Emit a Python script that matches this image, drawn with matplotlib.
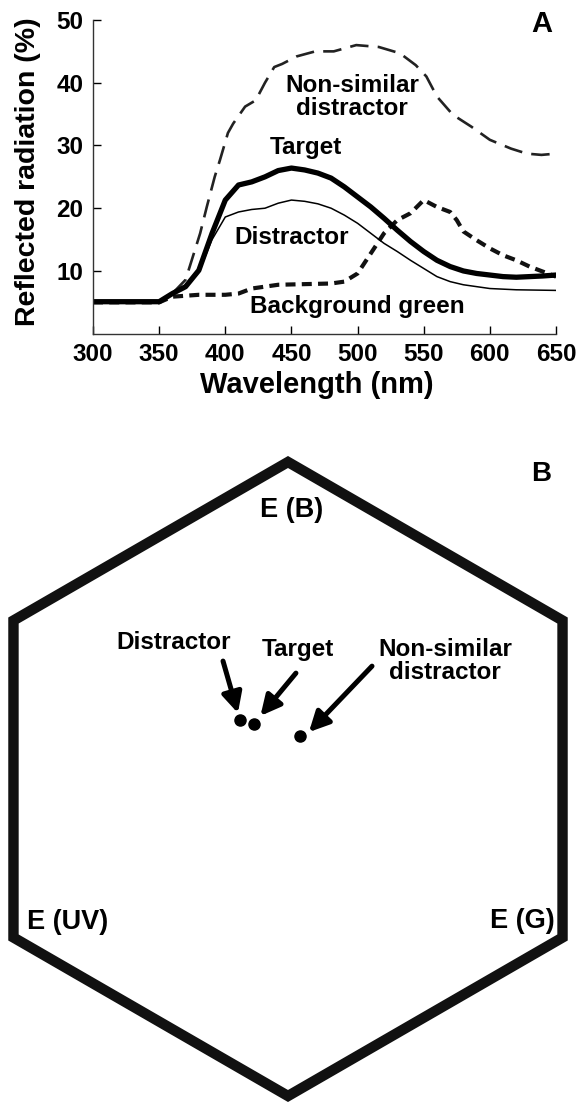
import numpy as np
import matplotlib
matplotlib.use("Agg")
import matplotlib.pyplot as plt
from matplotlib.patches import Polygon

plt.rcParams['font.family'] = ['Liberation Sans', 'DejaVu Sans']
plt.rcParams['font.weight'] = 'bold'

# panel A: reflectance spectra (% reflected radiation vs wavelength in nm)
wl_target = [300, 350, 360, 370, 380, 390, 400, 410, 420, 430, 440, 450, 460, 470, 480,
             490, 500, 510, 520, 530, 540, 550, 560, 570, 580, 590, 600, 610, 620, 630, 640, 650]
target = [5.1, 5.1, 6.4, 7.5, 10.1, 16.0, 21.3, 23.7, 24.2, 25.0, 26.0, 26.4, 26.1, 25.6, 24.8,
          23.4, 21.8, 20.2, 18.4, 16.5, 14.7, 13.1, 11.7, 10.7, 10.0, 9.6, 9.35, 9.1, 9.0, 9.1, 9.2, 9.35]

wl_distr = [300, 350, 360, 370, 380, 390, 400, 410, 420, 430, 440, 450, 460, 470, 480,
            490, 500, 510, 520, 530, 540, 550, 560, 570, 580, 590, 600, 620, 650]
distractor = [4.9, 4.9, 6.3, 7.3, 9.8, 15.0, 18.6, 19.4, 19.8, 20.0, 20.8, 21.3, 21.1, 20.7, 20.0,
              18.9, 17.6, 16.0, 14.4, 13.1, 11.7, 10.4, 9.1, 8.3, 7.8, 7.5, 7.2, 7.0, 6.9]

wl_nonsim = [300, 350, 360, 370, 381, 386, 392, 396, 402, 406, 415, 423, 430, 437, 443, 454,
             468, 482, 499, 516, 532, 544, 552, 560, 572, 586, 600, 616, 628, 639, 650]
nonsimilar = [5.0, 5.0, 6.4, 8.6, 16.0, 20.2, 25.0, 27.7, 32.0, 33.5, 36.2, 37.2, 40.0, 42.5, 43.0, 44.2,
              45.0, 45.0, 46.0, 45.7, 44.7, 42.8, 41.0, 37.8, 34.9, 33.0, 30.9, 29.5, 28.7, 28.5, 28.7]

wl_bg = [300, 350, 360, 380, 400, 410, 420, 440, 460, 480, 490, 500, 510, 520, 530, 540, 550,
         560, 570, 575, 580, 590, 600, 610, 620, 630, 640, 650]
background = [5.0, 5.0, 5.9, 6.2, 6.2, 6.4, 7.2, 7.8, 7.9, 8.0, 8.3, 9.6, 12.8, 16.0, 18.1, 19.2, 21.3,
              20.2, 19.4, 18.1, 16.3, 14.9, 13.6, 12.5, 11.7, 10.7, 9.9, 9.1]

xticks = [300, 350, 400, 450, 500, 550, 600, 650]
yticks = [10, 20, 30, 40, 50]

# panel B: loci in the colour hexagon (hexagon units, vertex distance 1)
hex_names = ['Distractor', 'Target', 'Non-similar\ndistractor']
hex_x = [-0.151, -0.107, 0.038]
hex_y = [0.186, 0.174, 0.136]

W, H = 581, 1105
fig = plt.figure(figsize=(W / 100, H / 100), dpi=100)

# ---------- panel A ----------
ax = fig.add_axes([93 / W, 1 - 333.7 / H, (556 - 93) / W, (333.7 - 20) / H])
ax.plot(wl_nonsim, nonsimilar, color='#222222', lw=1.9, dashes=(7, 3.5))
ax.plot(wl_bg, background, color='#111111', lw=3.0, dashes=(2.4, 1.5))
ax.plot(wl_distr, distractor, color='black', lw=1.1)
ax.plot(wl_target, target, color='black', lw=3.8)

ax.set_xlim(300, 650)
ax.set_ylim(0, 50)
ax.set_xticks(xticks)
ax.set_yticks(yticks)
ax.tick_params(direction='in', length=6, width=1, labelsize=17.5, pad=7)
for s in ['top', 'right']:
    ax.spines[s].set_visible(False)
for s in ['left', 'bottom']:
    ax.spines[s].set_linewidth(1)
    ax.spines[s].set_color('#333333')
for lab in ax.get_xticklabels() + ax.get_yticklabels():
    lab.set_fontweight('bold')

lab_fs = 17.5
ax.text(496, 37.8, 'Non-similar\ndistractor', fontsize=lab_fs, fontweight='bold',
        ha='center', va='center', linespacing=1.0)
ax.text(461, 29.6, 'Target', fontsize=lab_fs, fontweight='bold', ha='center', va='center')
ax.text(450, 15.3, 'Distractor', fontsize=lab_fs, fontweight='bold', ha='center', va='center')
ax.text(500, 4.3, 'Background green', fontsize=lab_fs, fontweight='bold', ha='center', va='center')

fig.text(317 / W, 1 - 385 / H, 'Wavelength (nm)', fontsize=21, fontweight='bold',
         ha='center', va='center')
fig.text(28 / W, 1 - 172 / H, 'Reflected radiation (%)', fontsize=20.5, fontweight='bold',
         ha='center', va='center', rotation=90)
fig.text(542 / W, 1 - 24 / H, 'A', fontsize=21, fontweight='bold', ha='center', va='center')

# ---------- panel B ----------
R = 317.0
cx, cy = 288.0, 779.0
bh = 665
axb = fig.add_axes([0, 0, 1, bh / H])
axb.set_xlim(-cx / R, (W - cx) / R)
axb.set_ylim(-(H - cy) / R, (cy - (H - bh)) / R)
axb.axis('off')

ang = np.deg2rad([90, 30, -30, -90, -150, 150])
hexagon = Polygon(np.column_stack([np.cos(ang), np.sin(ang)]), closed=True, fill=False,
                  edgecolor='#111111', lw=7.5, joinstyle='miter')
axb.add_patch(hexagon)

axb.plot(hex_x, hex_y, 'o', color='black', ms=8)

label_pos = [(-0.36, 0.432), (0.032, 0.407), (0.495, 0.372)]
arrow_start = [(-0.205, 0.372), (0.025, 0.334), (0.265, 0.356)]
arrow_pad = [(-0.007, 0.022), (0.02, 0.025), (0.028, 0.012)]
for name, (lx, ly), (sx, sy), (px, py), x, y in zip(hex_names, label_pos, arrow_start,
                                                      arrow_pad, hex_x, hex_y):
    axb.text(lx, ly, name, fontsize=lab_fs, fontweight='bold', ha='center', va='center',
             linespacing=1.0)
    axb.annotate('', xy=(x + px, y + py), xytext=(sx, sy),
                 arrowprops=dict(arrowstyle='-|>,head_length=0.8,head_width=0.4',
                                 lw=3.6, color='black', shrinkA=0, shrinkB=0,
                                 mutation_scale=15))

axb.text(0.013, 0.849, 'E (B)', fontsize=19.5, fontweight='bold', ha='center', va='center')
axb.text(-0.823, -0.451, 'E (UV)', fontsize=19.5, fontweight='bold', ha='left', va='center')
axb.text(0.843, -0.448, 'E (G)', fontsize=19.5, fontweight='bold', ha='right', va='center')
fig.text(541 / W, 1 - 474 / H, 'B', fontsize=20, fontweight='bold', ha='center', va='center')

fig.savefig('out.png', dpi=100)
